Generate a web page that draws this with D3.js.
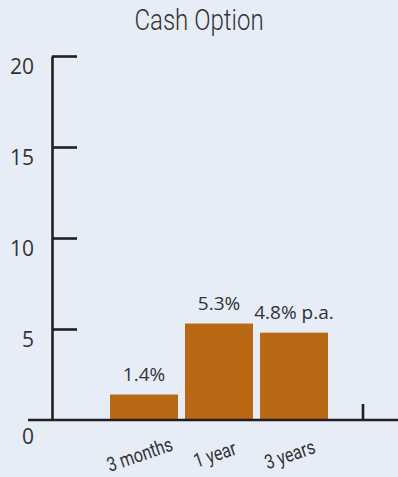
<!DOCTYPE html>
<html>
<head>
<meta charset="utf-8">
<script src="https://cdn.jsdelivr.net/npm/d3@7"></script>
<style>
  html, body { margin: 0; padding: 0; background: #e6edf7; }
  svg { display: block; }
</style>
</head>
<body>
<svg id="chart" width="398" height="477"></svg>
<script>
// Cash option returns by term
const categories = ["3 months", "1 year", "3 years"];
const values = [1.4, 5.3, 4.8];
const valueLabels = ["1.4%", "5.3%", "4.8% p.a."];
const yTicks = [0, 5, 10, 15, 20];
const title = "Cash Option";

const W = 398, H = 477;
const axisColor = "#231f20";
const textColor = "#333333";
const barColor = "#b96915";
const cond = "Roboto, 'Liberation Sans', sans-serif";
const sans = "'Open Sans', 'Noto Sans', sans-serif";

const svg = d3.select("#chart");

const y = d3.scaleLinear().domain([0, 20]).range([420, 56]);
const x = d3.scaleBand()
  .domain(categories)
  .range([106.5, 331.5])
  .paddingInner(0.0933)
  .paddingOuter(0.0467);

const axisX = 52;

// title, horizontally condensed
svg.append("text")
  .attr("transform", `translate(${W / 2},30) scale(0.83,1)`)
  .attr("text-anchor", "middle")
  .attr("font-family", cond)
  .attr("font-weight", 300)
  .attr("font-size", 29)
  .attr("fill", textColor)
  .text(title);

// bars
svg.append("g").selectAll("rect")
  .data(values)
  .join("rect")
  .attr("x", (d, i) => x(categories[i]))
  .attr("y", d => y(d))
  .attr("width", x.bandwidth())
  .attr("height", d => y(0) - y(d))
  .attr("fill", barColor);

// value labels
svg.append("g").selectAll("text")
  .data(values)
  .join("text")
  .attr("x", (d, i) => x(categories[i]) + x.bandwidth() / 2)
  .attr("y", d => y(d) - 14)
  .attr("text-anchor", "middle")
  .attr("font-family", sans)
  .attr("font-size", 19)
  .attr("fill", textColor)
  .text((d, i) => valueLabels[i]);

// y axis: ticks point into the plot, labels hang below each tick
const yAxis = d3.axisLeft(y)
  .tickValues(yTicks)
  .tickSize(-25)
  .tickSizeOuter(0)
  .tickPadding(18)
  .tickFormat(d3.format("d"));

const gy = svg.append("g")
  .attr("transform", `translate(${axisX},0)`)
  .call(yAxis);
gy.select(".domain").attr("stroke", axisColor).attr("stroke-width", 2.6);
gy.selectAll(".tick line")
  .attr("stroke", axisColor)
  .attr("stroke-width", 2.6)
  .attr("display", d => d === 0 ? "none" : null);
gy.selectAll(".tick text")
  .attr("dy", d => d === 0 ? "23px" : "17px")
  .attr("font-family", sans)
  .attr("font-size", 21)
  .attr("fill", textColor);

// baseline
svg.append("line")
  .attr("x1", 28).attr("x2", W)
  .attr("y1", y(0)).attr("y2", y(0))
  .attr("stroke", axisColor)
  .attr("stroke-width", 2.6);

// closing tick at the right end of the category axis
const endX = x.range()[1] + 31.5;
svg.append("line")
  .attr("x1", endX).attr("x2", endX)
  .attr("y1", y(0) - 16).attr("y2", y(0))
  .attr("stroke", axisColor)
  .attr("stroke-width", 2.6);

// category labels, slanted and condensed
svg.append("g").selectAll("text")
  .data(categories)
  .join("text")
  .attr("transform", d => `translate(${x(d) + x.bandwidth() / 2 - 2},461) rotate(-19) scale(0.81,1)`)
  .attr("text-anchor", "middle")
  .attr("font-family", cond)
  .attr("font-size", 20)
  .attr("fill", textColor)
  .text(d => d);
</script>
</body>
</html>
